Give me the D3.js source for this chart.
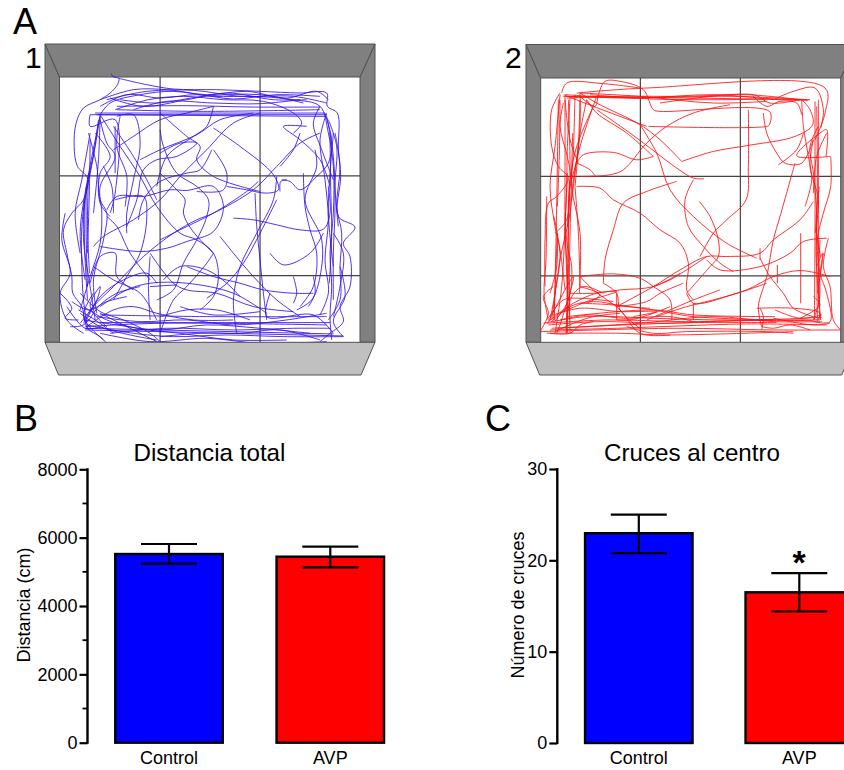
<!DOCTYPE html>
<html><head><meta charset="utf-8">
<script src="https://cdn.jsdelivr.net/npm/d3@7"></script>
<style>html,body{margin:0;padding:0;background:#fff;overflow:hidden}svg{display:block}text{font-family:"Liberation Sans",Arial,sans-serif;fill:#000}</style>
</head><body><svg id="c" width="844" height="770"></svg>
<script>
// --- bar data ---
const groups = ["Control","AVP"];
const distMean = [5521,5443];
const distUpper = [5814,5735];
const distLower = [5238,5132];
const crossMean = [22.97,16.5];
const crossUpper = [25.0,18.6];
const crossLower = [20.8,14.4];
const distTicks = [0,2000,4000,6000,8000];
const distMinorTicks = [1000,3000,5000,7000];
const crossTicks = [0,10,20,30];
// --- arena grid positions, in tracker units ---
const grid1X = [480,780]; const grid1Y = [528,827];
const grid2X = [481,781]; const grid2Y = [530,828];
// --- tracks, in tracker units ---
const track1 = [
[[333,222],[340,232],[356,236],[352,255],[330,280],[300,300],[250,325],[228,370],[222,440],[232,500],[262,535],[250,600],[215,640],[190,690],[200,760],[215,830],[218,880],[245,920],[262,985],[300,1010],[320,1030]],
[[356,236],[440,255],[520,268],[650,270],[780,275],[900,280],[980,280],[982,320],[1012,340],[1015,450],[1022,530],[1015,650],[1065,682],[1030,730],[1050,770],[1050,860],[1020,920],[1030,965],[990,1000],[960,1025]],
[[700,655],[760,660],[830,675],[900,690],[970,688],[990,640],[985,560]],
[[480,390],[490,440],[530,520],[590,560],[625,600],[620,650],[590,720],[550,790],[520,870],[470,900]],
[[300,345],[360,440],[420,530],[470,620],[540,700],[590,720],[640,760],[655,830],[640,890],[600,930]],
[[345,600],[430,590],[440,650],[420,760],[380,830],[340,900]],
[[960,400],[900,430],[830,500],[760,570],[640,640],[590,660],[520,700],[430,770],[340,860],[280,920],[250,970]],
[[780,340],[700,370],[620,450],[540,530],[480,600],[400,660],[310,710],[280,740]],
[[300,740],[420,755],[500,745],[560,725],[640,695],[670,620],[640,560],[560,572],[510,570],[430,590],[350,590],[320,630]],
[[480,520],[530,570],[555,600],[550,640],[575,690],[640,760]],
[[635,450],[600,510],[560,520],[480,545],[430,600],[415,660]],
[[640,450],[680,520],[670,570],[590,575]],
[[640,385],[720,440],[820,525],[835,570],[800,580],[740,570],[680,560]],
[[775,545],[740,575],[640,640],[560,680],[480,720]],
[[845,540],[870,545],[900,570],[950,530],[985,490],[1000,400]],
[[840,575],[842,545],[860,540]],
[[830,530],[820,600],[770,700],[720,800],[700,900],[710,1000]],
[[765,580],[770,680],[780,780],[790,880],[800,960]],
[[660,710],[700,760],[760,830],[830,900],[900,950]],
[[810,760],[850,795],[930,760],[970,700]],
[[560,800],[640,830],[720,850],[790,870],[880,880],[940,880]],
[[450,760],[520,850],[560,870],[650,880],[760,920],[880,935]],
[[910,520],[915,620],[930,690],[950,760],[940,860],[900,920]],
[[280,800],[340,840],[420,880],[470,960]],
[[480,340],[560,410],[600,440],[590,480],[640,530],[780,575]],
[[480,460],[540,430],[590,430],[530,470],[470,480],[430,510],[410,600],[380,680]],
[[340,450],[400,410],[480,360],[560,340],[640,320]],
[[920,380],[850,380],[900,420],[960,480],[990,560]],
[[750,960],[650,930],[560,930],[480,950]],
[[300,920],[380,870],[450,850],[560,850],[700,880],[800,940]],
[[260,980],[340,930],[400,920],[470,940],[580,960],[700,960]],
[[640,760],[620,790],[560,860],[520,900],[480,1000]],
[[270,345],[980,345]],[[285,340],[975,340]],[[290,345],[975,350]],
[[270,345],[270,380],[345,360],[345,580],[330,640]],
[[255,990],[1030,1008]],[[255,985],[1000,1002]],[[300,968],[990,968]],
[[255,980],[480,970],[980,975]],
[[300,945],[620,950],[980,950]],
[[300,940],[470,1025]],
[[350,320],[560,318],[750,322],[960,322]],
[[350,330],[600,335],[960,330]],
[[300,345],[330,310],[420,285],[520,275],[640,290],[760,290],[880,300],[960,320],[985,400],[1000,500],[1000,640],[990,760],[995,860],[990,950],[995,1020]],
[[300,345],[285,440],[260,560],[245,680],[245,800],[250,900],[262,985]],
[[295,360],[278,480],[255,600],[250,720],[270,860],[285,960]],
[[265,400],[290,500],[300,600],[320,640],[310,720],[280,840],[290,940]],
[[300,360],[320,430],[345,470],[300,560],[305,640],[300,730],[270,830],[240,930]],
[[980,340],[960,420],[975,540],[985,660],[975,780],[985,880],[960,945]],
[[1005,400],[1020,500],[1010,620],[1025,700],[1020,800],[1020,900],[985,960]],
[[945,450],[950,500],[915,600],[965,720],[960,830],[935,900],[890,930]],
[[940,830],[945,880],[925,920]],
[[880,830],[890,880],[880,910]],
[[240,760],[225,640],[245,540],[270,400]],
[[195,640],[185,720],[210,820],[180,880],[200,960],[250,1000]],
[[180,880],[215,925],[195,955],[235,960]],
[[255,970],[300,890],[370,840],[440,820],[470,850]],
[[240,880],[300,935],[370,960],[450,1000],[480,1025]],
[[480,1010],[600,1000],[720,1000],[840,990],[960,1020]],
[[330,1000],[500,985],[700,990],[880,985],[990,985]],
[[345,330],[445,300],[550,290],[670,300],[790,305],[880,340],[905,370],[880,400]],
[[300,300],[400,270],[500,270],[620,285],[740,275],[860,295],[950,275],[985,300]],
[[330,295],[430,320],[560,300],[680,280],[820,300],[920,300]],
[[350,350],[400,345],[420,430],[400,540],[380,640],[380,700]],
[[450,770],[445,860],[450,960]],
[[450,860],[530,855]],
[[540,920],[640,945],[780,935]],
[[810,880],[800,950],[940,945],[1000,1000]],
[[620,895],[680,850],[730,790],[780,700],[830,600]],
[[1020,800],[1035,890],[1000,965],[1030,1010]],
[[258,560],[258,700],[262,860]],[[252,600],[254,760],[262,900]],[[265,520],[262,680],[268,820]],
[[270,420],[268,560],[262,760]],[[300,350],[295,480],[280,640]],[[345,380],[345,520]],
[[300,350],[262,540],[240,700],[255,840]],[[310,500],[335,560],[340,640]],
[[285,400],[330,470],[300,520],[300,610],[330,650]],[[360,350],[350,440],[380,530],[375,620]],
[[980,350],[1000,470],[1005,620],[1000,760],[1000,900]],[[990,400],[992,560],[995,700],[988,850]],
[[985,360],[1010,440],[1005,560],[1015,680]],[[975,340],[995,420],[990,520],[985,640],[1000,800]],
[[960,320],[940,370],[965,450],[1000,540]],[[1000,700],[1030,760],[1020,860],[1000,950]],
[[300,320],[380,285],[480,295],[590,285],[700,298],[830,285],[960,290]],
[[320,300],[440,275],[580,272],[720,290],[880,290],[980,310]],
[[360,300],[470,310],[610,290],[780,285],[910,310]],[[400,330],[500,305],[640,310],[780,312],[900,300]],
[[250,960],[350,975],[480,990],[620,975],[780,985],[930,1000]],[[290,950],[420,965],[560,960],[700,975],[860,960],[980,940]],
[[260,975],[400,1000],[520,1010],[680,1005],[850,1010],[1030,1010]],[[250,920],[320,960],[410,985],[540,1000],[700,1020],[860,1020]],
[[300,1000],[450,1025],[620,1015],[780,1030],[980,1025]],[[240,940],[300,980],[390,1005],[470,1020]],
[[240,970],[290,900],[300,860],[270,920],[320,980]],[[235,930],[285,960],[340,1000]],[[280,880],[250,950],[310,1020]],
[[200,920],[255,985],[300,980]],[[215,905],[265,930],[320,905],[380,890]],[[210,980],[250,975],[300,915],[350,880],[420,860]],
[[270,850],[300,770],[345,760],[350,830],[400,870]],[[320,650],[350,680],[390,760],[450,840]],
[[490,840],[540,800],[620,810],[680,850],[720,890]],[[340,380],[400,470],[440,540],[470,600]],
[[640,320],[620,380],[580,410],[500,470],[470,560]],[[900,400],[880,450],[840,500]],
[[420,480],[480,450],[590,405],[660,360],[760,340]]
];
const track2 = [
[[605,485],[700,455],[805,437],[945,410],[998,375],[990,330],[965,300]],
[[605,485],[540,420],[480,375],[350,310],[300,280]],
[[505,380],[860,380],[868,375],[868,335],[540,335],[520,330],[490,270],[420,245],[375,245],[355,285],[345,320],[300,290]],
[[750,315],[640,340],[560,380],[500,430],[430,510],[390,525],[300,530]],
[[672,537],[640,535],[590,505],[530,460],[450,400],[350,330]],
[[640,540],[615,600],[625,680],[670,740],[720,790],[760,815]],
[[658,605],[690,650],[715,720],[715,770],[690,800],[620,880]],
[[590,545],[500,575],[430,610],[400,690],[375,780],[370,850]],
[[290,560],[360,565],[400,600],[480,640],[540,690],[600,730],[625,790],[620,870],[640,900]],
[[480,375],[530,460],[570,570],[640,650],[740,730],[830,775]],
[[805,330],[805,500],[798,600],[740,660],[700,700],[660,770]],
[[1000,605],[960,660],[880,720],[840,760],[740,770],[680,770],[600,810],[520,860],[410,920]],
[[1040,715],[970,725],[930,760],[840,800],[720,810],[680,780]],
[[1050,830],[960,812],[880,830],[800,870],[700,900],[620,920],[530,950]],
[[840,745],[840,780]],
[[892,795],[892,850]],
[[945,490],[900,650],[880,720],[860,830],[835,920],[845,980]],
[[895,495],[950,450],[970,400]],
[[850,340],[860,400],[890,460],[915,490],[965,490],[1000,420]],
[[290,490],[310,465],[400,458],[470,480],[520,470]],
[[290,490],[330,510],[345,528]],
[[300,830],[400,822],[480,835],[520,860],[570,900],[575,960]],
[[370,850],[410,880],[420,930],[480,985]],
[[840,775],[870,830],[910,880],[940,925],[1000,950]],
[[200,970],[380,960],[620,965],[900,960],[1020,960]],
[[215,985],[480,970],[700,950],[880,965],[1025,965]],
[[180,995],[350,990],[600,985],[880,990],[1082,990]],
[[200,1000],[420,1000],[560,1005],[940,995]],
[[260,950],[520,930],[640,945],[885,950]],
[[300,910],[400,915],[520,930],[640,950],[880,960]],
[[240,940],[320,905],[410,875],[350,880],[280,910],[205,965]],
[[205,965],[280,830],[245,960],[230,1000]],
[[1082,990],[1060,960],[1050,860],[1030,800],[1045,715]],
[[1050,470],[950,468],[1020,400],[1040,390],[1038,470]],
[[1052,470],[1052,560],[1030,640],[1012,720],[1020,820],[1040,880],[1050,965],[1000,965]],
[[1015,380],[990,440],[1000,520],[1010,640],[1008,760],[1015,880],[1020,960]],
[[1015,300],[1015,480],[1015,700],[1018,920]],
[[1005,305],[1005,480],[1005,700],[1003,960]],
[[962,700],[962,910]],
[[965,300],[970,380],[985,470],[995,540],[975,620]],
[[250,290],[990,300]],
[[255,285],[470,295],[700,285],[900,300],[985,302]],
[[290,280],[500,265],[1035,265],[1035,340],[1005,420]],
[[245,280],[260,250],[370,252],[480,265]],
[[240,280],[215,330],[215,440],[235,500],[265,535],[230,590],[205,610],[195,720],[195,860]],
[[240,285],[225,440],[210,560],[225,680],[240,760],[225,880],[210,960]],
[[270,295],[262,440],[260,560],[255,700],[262,820],[260,1000]],
[[255,290],[255,500],[255,660],[262,900],[262,1000]],
[[285,285],[280,460],[275,560],[300,700],[298,880]],
[[300,280],[300,380],[290,480],[270,560],[260,660],[225,700]],
[[350,290],[300,440],[280,540],[270,640],[240,780],[215,960]],
[[210,880],[230,800],[232,700],[222,960]],
[[255,640],[262,740],[275,800],[265,900],[220,970]],
[[880,300],[940,275],[1005,265],[1030,330],[1022,385]],
[[820,290],[860,320],[900,305],[950,310],[965,345]],
[[640,910],[640,960]],
[[570,920],[520,940],[450,960],[410,960]],
[[410,880],[410,960]],
[[830,925],[940,925],[1020,940],[1010,965]],
[[885,930],[960,955],[1025,945]],
[[845,980],[880,985],[930,975],[990,990]],
[[300,860],[360,885],[320,910]],
[[300,830],[340,870],[420,930],[480,1000],[570,1005]],
[[270,880],[340,880],[420,870],[520,860],[600,820]],
[[520,470],[440,400],[350,340],[320,300]],
[[1030,760],[1020,820],[1018,900],[1000,960]],
[[235,300],[232,500],[228,720],[222,960]],[[240,300],[238,460],[232,620]],[[265,300],[270,500],[265,720],[268,960]],
[[268,540],[264,700],[262,880],[258,1000]],[[278,400],[272,620],[268,820],[270,1000]],[[262,520],[255,680],[245,860],[225,1000]],
[[300,300],[295,440],[285,560]],[[320,300],[300,400],[285,520],[275,600]],[[340,320],[290,440],[272,530],[262,680]],
[[285,560],[295,700],[300,860]],[[222,650],[240,750],[255,870]],[[200,590],[198,780],[192,880],[205,960]],
[[250,310],[240,380],[262,470],[275,540]],[[255,300],[270,420],[295,490]],
[[1010,320],[1012,520],[1010,720],[1012,960]],[[1020,720],[1015,860],[1022,960]],[[1018,560],[1008,680],[1022,770]],
[[1000,420],[990,500],[1015,600],[1005,700]],[[1040,400],[1010,470],[1000,580]],[[1010,800],[1028,760],[1012,880]],
[[260,295],[420,290],[620,290],[800,285],[960,300]],[[260,290],[450,295],[760,290],[980,300]],[[300,280],[480,290],[700,310],[860,305]],
[[330,285],[520,298],[700,300],[880,298]],[[540,310],[820,285],[870,310],[960,300]],[[250,285],[340,320],[500,380]],
[[190,970],[320,950],[520,955],[720,960],[890,958],[1025,952]],[[205,975],[360,965],[560,970],[760,962],[1000,962]],
[[230,985],[430,975],[640,968],[890,968]],[[210,990],[410,985],[600,978],[800,972],[1040,975]],
[[240,960],[330,945],[430,955],[570,950],[640,965]],[[220,945],[300,925],[420,935],[530,935],[460,950]],
[[215,965],[270,920],[340,905],[440,920],[510,925]],[[205,955],[250,900],[300,895],[400,905]],[[225,995],[280,970],[340,950],[420,940]],
[[180,995],[205,940],[190,890],[220,860]],[[210,1000],[270,1000],[300,975],[340,965]],[[440,980],[520,1000],[620,995],[860,995],[940,1000]],
[[845,990],[850,950],[840,925]],[[880,955],[1000,975],[1050,970]],[[960,955],[1020,915],[1000,890]],[[260,960],[275,890],[310,860],[370,880]],
[[620,880],[640,910],[770,880],[860,850]],[[410,920],[500,905],[540,880],[610,850]],[[520,860],[570,840],[680,770]],[[500,960],[570,930],[640,900],[720,870]]
];
const svg = d3.select("#c");
const gray1="#808080", gray2="#c0c0c0", edge="#505050";

function arena(track, gx, gy, o){
  const x = d3.scaleLinear().domain(o.dx).range(o.rx);
  const y = d3.scaleLinear().domain(o.dy).range(o.ry);
  const g = svg.append("g");
  const L=o.outerL,R=o.outerR,T=o.outerT,B=o.outerB;
  const il=o.rx[0],ir=o.rx[1],it=o.ry[0],ib=o.ry[1];
  g.append("rect").attr("x",il).attr("y",it).attr("width",ir-il).attr("height",ib-it).attr("fill","#fff");
  const wall=(p,f)=>g.append("polygon").attr("points",p.map(d=>d.join(",")).join(" ")).attr("fill",f).attr("stroke",edge).attr("stroke-width",1);
  wall([[L,T],[il,it],[il,ib],[L,ib]],gray1);
  wall([[R,T],[ir,it],[ir,ib],[R,ib]],gray1);
  wall([[L,T],[R,T],[ir,it],[il,it]],gray1);
  gx.forEach(v=>g.append("line").attr("x1",x(v)).attr("x2",x(v)).attr("y1",it).attr("y2",ib).attr("stroke","#444").attr("stroke-width",1.2));
  gy.forEach(v=>g.append("line").attr("x1",il).attr("x2",ir).attr("y1",y(v)).attr("y2",y(v)).attr("stroke","#444").attr("stroke-width",1.2));
  const line=d3.line().x(d=>x(d[0])).y(d=>y(d[1])).curve(d3.curveCatmullRom.alpha(0.5));
  g.selectAll("path.t").data(track).join("path").attr("class","t").attr("d",line)
    .attr("fill","none").attr("stroke",o.color).attr("stroke-width",0.9).attr("stroke-opacity",0.95);
  wall([[L,ib],[R,ib],[ir+1,B],[il-1,B]],gray2);
}
arena(track1,grid1X,grid1Y,{dx:[178,1080],dy:[232,1027],rx:[59.5,360],ry:[77,342.3],outerL:45,outerR:375,outerT:44,outerB:375,color:"#3310e8"});
arena(track2,grid2X,grid2Y,{dx:[182,1082],dy:[235,1027],rx:[540.7,840.7],ry:[78,342.3],outerL:526,outerR:856,outerT:44.5,outerB:375,color:"#ff1010"});

function T(x,y,s,size,extra){const t=svg.append("text").attr("x",x).attr("y",y).attr("font-size",size).text(s);if(extra)extra(t);return t;}
T(13,34,"A",36); T(25,68,"1",30); T(505,68,"2",30);
T(14,431,"B",36); T(485,431,"C",36);

function barChart(o){
  const y=d3.scaleLinear().domain(o.domain).range([o.y0,o.y1]);
  const x=d3.scaleOrdinal().domain(groups).range(o.centers);
  const g=svg.append("g");
  T(o.titleX,461,o.title,24.2,t=>t.attr("text-anchor","middle"));
  const axis=d3.axisLeft(y).tickValues(o.ticks).tickFormat(d3.format("d")).tickSize(8).tickPadding(2);
  const ag=g.append("g").attr("transform",`translate(${o.ax},0)`).call(axis);
  ag.selectAll(".domain").attr("stroke","#000").attr("stroke-width",2.4).attr("d",`M0,${y.range()[0]+1}V${y.range()[1]-1}`);
  ag.selectAll(".tick line").attr("stroke","#000").attr("stroke-width",2.2);
  ag.selectAll(".tick text").attr("font-size",18).attr("font-family","'Liberation Sans',Arial,sans-serif").attr("fill","#000");
  (o.minor||[]).forEach(v=>g.append("line").attr("x1",o.ax-5).attr("x2",o.ax).attr("y1",y(v)).attr("y2",y(v)).attr("stroke","#000").attr("stroke-width",1.8));
  groups.forEach((name,i)=>{
    const c=x(name);
    g.append("rect").attr("x",c-o.bw/2).attr("width",o.bw).attr("y",y(o.mean[i])).attr("height",y(o.domain[0])-y(o.mean[i]))
      .attr("fill",o.colors[i]).attr("stroke","#000").attr("stroke-width",2.4);
    g.append("line").attr("x1",c).attr("x2",c).attr("y1",y(o.up[i])).attr("y2",y(o.lo[i])).attr("stroke","#000").attr("stroke-width",2.2);
    [o.up[i],o.lo[i]].forEach(v=>g.append("line").attr("x1",c-28).attr("x2",c+28).attr("y1",y(v)).attr("y2",y(v)).attr("stroke","#000").attr("stroke-width",2.2));
    T(c,764,name,18,t=>t.attr("text-anchor","middle"));
  });
  svg.append("text").attr("transform",`translate(${o.labelX},${o.labelY}) rotate(-90)`).attr("text-anchor","middle").attr("font-size",o.labelSize).text(o.label);
}
barChart({domain:[0,8000],y0:742.7,y1:469.3,ax:87.5,centers:[169,330.3],bw:107.5,mean:distMean,up:distUpper,lo:distLower,colors:["#0000ff","#ff0000"],ticks:distTicks,minor:distMinorTicks,title:"Distancia total",titleX:209.5,label:"Distancia (cm)",labelX:30,labelY:605,labelSize:18});
barChart({domain:[0,30],y0:743,y1:469,ax:557.3,centers:[638.8,799.3],bw:107.5,mean:crossMean,up:crossUpper,lo:crossLower,colors:["#0000ff","#ff0000"],ticks:crossTicks,title:"Cruces al centro",titleX:692,label:"Número de cruces",labelX:524,labelY:605,labelSize:18});
T(799,574,"*",34,t=>t.attr("text-anchor","middle").attr("font-weight","bold"));
</script></body></html>
